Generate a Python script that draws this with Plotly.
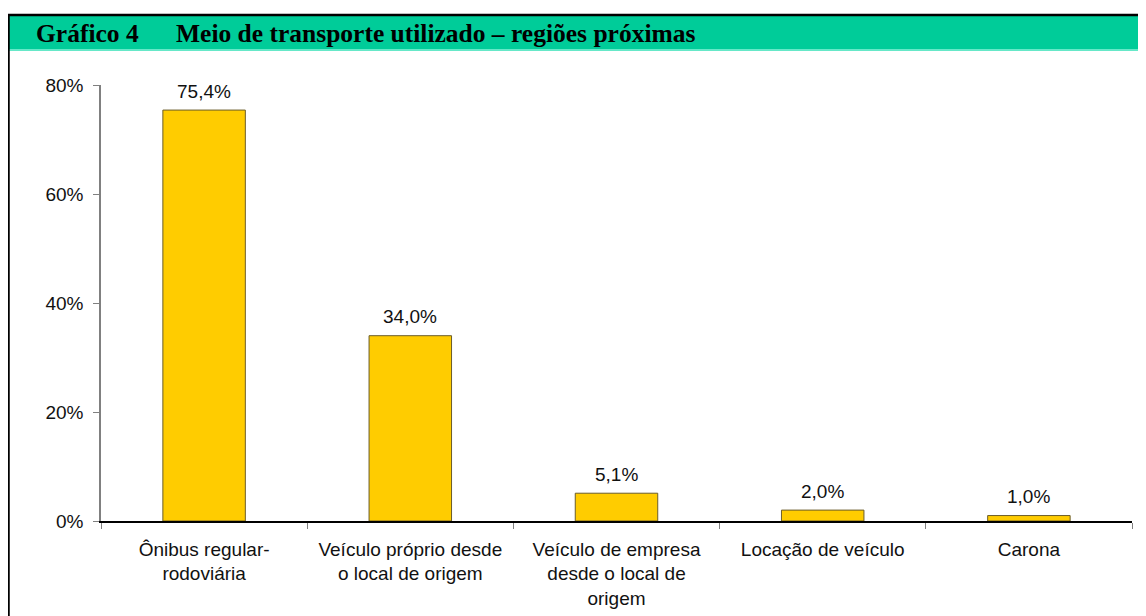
import plotly.graph_objects as go

categorias = ['Ônibus regular-<br>rodoviária',
              'Veículo próprio desde<br>o local de origem',
              'Veículo de empresa<br>desde o local de<br>origem',
              'Locação de veículo',
              'Carona']
valores = [75.4, 34.0, 5.1, 2.0, 1.0]
y_ticks = [0, 20, 40, 60, 80]
y_tick_labels = ['0%', '20%', '40%', '60%', '80%']

OFF = 8                      # page body margin in the browser
W, H = 1146 - OFF, 616 - OFF
# plot area in screen pixels
L, R, T, B = 101, 1132, 85, 521


def px(x):
    return (x - L) / (R - L)


def py(y):
    return (B - y) / (B - T)


rotulos = [f'{v:.1f}%'.replace('.', ',') for v in valores]

bar = go.Bar(x=categorias, y=valores, width=0.4,
             marker={'color': '#FFCC00', 'line': {'color': '#6b5d2a', 'width': 1}})

# value labels above the bars
notas = [{'x': c, 'y': v, 'text': t, 'xref': 'x', 'yref': 'y',
          'yanchor': 'middle', 'yshift': 19, 'showarrow': False,
          'font': {'family': 'Liberation Sans, Arial', 'size': 19, 'color': '#111'}}
         for c, v, t in zip(categorias, valores, rotulos)]

layout = go.Layout(
    width=W, height=H,
    margin={'l': L - OFF, 'r': W - (R - OFF), 't': T - OFF, 'b': H - (B - OFF)},
    plot_bgcolor='white', paper_bgcolor='white',
    showlegend=False, bargap=0.6,
    font={'family': 'Liberation Sans, Arial', 'size': 19, 'color': '#111'},
    xaxis={'showline': True, 'linecolor': '#000', 'linewidth': 1.5,
           'ticks': 'outside', 'tickcolor': '#808080', 'ticklen': 6,
           'tickson': 'boundaries', 'showgrid': False, 'automargin': False,
           'ticklabelstandoff': 10, 'tickfont': {'size': 19}},
    yaxis={'range': [0, 80], 'tickvals': y_ticks, 'ticktext': y_tick_labels,
           'showline': True, 'linecolor': '#808080', 'linewidth': 1.5,
           'ticks': 'outside', 'tickcolor': '#808080', 'ticklen': 6,
           'ticklabelstandoff': 6, 'automargin': False,
           'showgrid': False, 'zeroline': False, 'tickfont': {'size': 19}},
    shapes=[
        # green title band
        {'type': 'rect', 'xref': 'paper', 'yref': 'paper',
         'x0': px(8), 'x1': px(1160), 'y0': py(16), 'y1': py(49),
         'fillcolor': '#00CC99', 'line': {'width': 0}, 'layer': 'below'},
        {'type': 'line', 'xref': 'paper', 'yref': 'paper',
         'x0': px(8), 'x1': px(1160), 'y0': py(50), 'y1': py(50),
         'line': {'color': '#66E8C8', 'width': 2}},
        # frame: top and left borders
        {'type': 'line', 'xref': 'paper', 'yref': 'paper',
         'x0': px(7), 'x1': px(1160), 'y0': py(15), 'y1': py(15),
         'line': {'color': '#000', 'width': 2.5}},
        {'type': 'line', 'xref': 'paper', 'yref': 'paper',
         'x0': px(8.5), 'x1': px(8.5), 'y0': py(14), 'y1': py(630),
         'line': {'color': '#000', 'width': 2.5}},
    ],
    annotations=notas + [
        {'text': '<b>Gráfico 4</b>', 'xref': 'paper', 'yref': 'paper',
         'x': px(34), 'y': py(34), 'xanchor': 'left', 'yanchor': 'middle',
         'showarrow': False,
         'font': {'family': 'Liberation Serif, Times New Roman', 'size': 25.5, 'color': '#000'}},
        {'text': '<b>Meio de transporte utilizado – regiões próximas</b>',
         'xref': 'paper', 'yref': 'paper',
         'x': px(174), 'y': py(34), 'xanchor': 'left', 'yanchor': 'middle',
         'showarrow': False,
         'font': {'family': 'Liberation Serif, Times New Roman', 'size': 25.5, 'color': '#000'}},
    ],
)

fig = go.Figure(data=[bar], layout=layout)
fig.write_html('out.html')
